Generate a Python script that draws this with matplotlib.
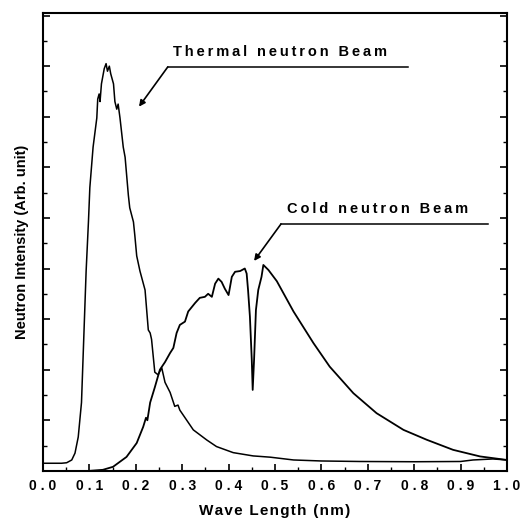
import matplotlib
matplotlib.use("Agg")
import matplotlib.pyplot as plt
from matplotlib.ticker import MultipleLocator, FuncFormatter

plt.rcParams["font.family"] = ["Liberation Sans", "DejaVu Sans"]

# thermal neutron beam spectrum (arb. units, one y tick = 1)
thermal_x = [0.00, 0.04, 0.051, 0.062, 0.069, 0.076, 0.083, 0.088, 0.093, 0.098,
             0.101, 0.108, 0.116, 0.118, 0.121, 0.123, 0.126, 0.132, 0.136, 0.139,
             0.143, 0.146, 0.152, 0.155, 0.159, 0.162, 0.166, 0.173, 0.177, 0.184,
             0.187, 0.195, 0.198, 0.202, 0.209, 0.220, 0.227, 0.231, 0.234, 0.241,
             0.248, 0.256, 0.263, 0.274, 0.284, 0.291, 0.295, 0.324, 0.353, 0.374,
             0.410, 0.453, 0.468, 0.490, 0.540, 0.600, 0.683, 0.800, 0.900, 0.927,
             0.970, 1.000]
thermal_y = [0.30, 0.30, 0.32, 0.43, 0.70, 1.34, 2.7, 5.3, 7.9, 9.85,
             11.2, 12.8, 13.95, 14.7, 14.9, 14.6, 15.3, 15.9, 16.1, 15.8,
             16.0, 15.7, 15.3, 14.6, 14.3, 14.5, 13.95, 12.8, 12.4, 10.9,
             10.4, 9.84, 9.3, 8.5, 7.9, 7.15, 5.57, 5.45, 5.2, 3.9,
             3.8, 4.07, 3.5, 3.1, 2.55, 2.6, 2.4, 1.62, 1.22, 0.96,
             0.72, 0.59, 0.57, 0.54, 0.43, 0.39, 0.37, 0.36, 0.37, 0.43,
             0.47, 0.43]

# cold neutron beam spectrum
cold_x = [0.100, 0.129, 0.151, 0.180, 0.202, 0.216, 0.222, 0.225, 0.231, 0.241,
          0.252, 0.263, 0.274, 0.281, 0.288, 0.295, 0.306, 0.313, 0.328, 0.338,
          0.349, 0.356, 0.364, 0.371, 0.378, 0.385, 0.392, 0.400, 0.407, 0.414,
          0.425, 0.435, 0.439, 0.442, 0.446, 0.450, 0.452, 0.455, 0.459, 0.464,
          0.471, 0.475, 0.486, 0.504, 0.540, 0.583, 0.618, 0.669, 0.719, 0.777,
          0.827, 0.884, 0.942, 1.000]
cold_y = [0.0, 0.04, 0.16, 0.55, 1.10, 1.74, 2.10, 2.00, 2.70, 3.30,
          4.00, 4.30, 4.66, 4.86, 5.45, 5.77, 5.90, 6.30, 6.64, 6.84,
          6.88, 7.00, 6.88, 7.40, 7.60, 7.47, 7.20, 6.95, 7.67, 7.87,
          7.90, 8.00, 7.80, 7.15, 6.10, 4.40, 3.20, 4.40, 6.36, 7.15,
          7.67, 8.14, 7.94, 7.50, 6.30, 5.05, 4.12, 3.07, 2.28, 1.62,
          1.23, 0.83, 0.57, 0.43]

# labels: (text, arrow tip, elbow, underline end)
labels = ["Thermal neutron Beam", "Cold neutron Beam"]
arrow_tips = [(0.207, 14.4), (0.455, 8.3)]
elbows = [(0.269, 15.97), (0.513, 9.76)]
line_ends = [0.787, 0.959]


def spaced(s, sep="\u2009"):
    return sep.join(s)


fig = plt.figure(figsize=(5.21, 5.22), dpi=100)
ax = fig.add_axes([0.0825, 0.098, 0.8905, 0.877])

ax.plot(thermal_x, thermal_y, color="k", lw=1.1)
ax.plot(cold_x, cold_y, color="k", lw=1.3)

for text, tip, elbow, end in zip(labels, arrow_tips, elbows, line_ends):
    ax.plot([elbow[0], end], [elbow[1], elbow[1]], color="k", lw=1.1)
    ax.annotate("", xy=tip, xytext=elbow,
                arrowprops=dict(arrowstyle="-|>", color="k", lw=1.2,
                                mutation_scale=9, shrinkA=0, shrinkB=0))
    ax.text(elbow[0] + 0.012, elbow[1] + 0.3, spaced(text), fontsize=10.5,
            ha="left", va="bottom", fontweight="bold")

ax.set_xlim(0, 1.0)
ax.set_ylim(0, 18.1)
ax.xaxis.set_major_locator(MultipleLocator(0.1))
ax.xaxis.set_minor_locator(MultipleLocator(0.05))
ax.yaxis.set_major_locator(MultipleLocator(2))
ax.yaxis.set_minor_locator(MultipleLocator(1))
ax.xaxis.set_major_formatter(FuncFormatter(lambda v, p: spaced("%.1f" % v, " ")))
ax.tick_params(axis="x", which="both", direction="in", top=False, labelsize=10)
ax.tick_params(axis="y", which="both", direction="in", left=True, right=True,
               labelleft=False)
ax.tick_params(which="major", length=5, width=1.2)
ax.tick_params(which="minor", length=3, width=1.0)
for lab in ax.get_xticklabels():
    lab.set_fontweight("bold")
ax.tick_params(axis="x", pad=6)

for sp in ax.spines.values():
    sp.set_linewidth(1.5)

ax.set_xlabel(spaced("Wave Length (nm)", "\u200a"), fontsize=11, fontweight="bold",
              labelpad=8)
ax.set_ylabel("Neutron Intensity (Arb. unit)", fontsize=10.5, fontweight="bold",
              labelpad=10)

fig.savefig("out.png", dpi=100)
